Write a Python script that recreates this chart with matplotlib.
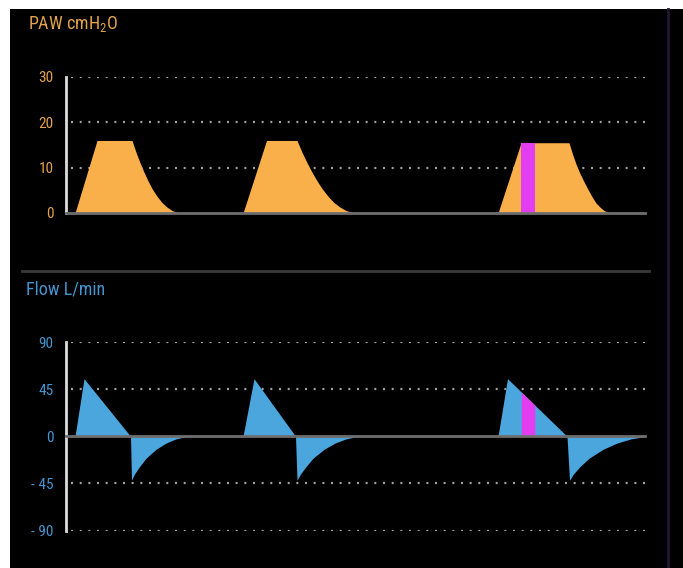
import numpy as np
import matplotlib
matplotlib.use("Agg")
import matplotlib.pyplot as plt
from matplotlib.patches import Rectangle
from matplotlib.lines import Line2D
from matplotlib import font_manager

names = sorted({f.name for f in font_manager.fontManager.ttflist})
narrow = [n for n in ['Liberation Sans Narrow', 'DejaVu Sans Condensed', 'Roboto Condensed',
                      'Open Sans Condensed', 'Noto Sans Condensed'] if n in names]
plt.rcParams['font.family'] = narrow + ['DejaVu Sans']
plt.rcParams['mathtext.default'] = 'regular'

# ---- data (time in s) ----
# Airway pressure, cmH2O
paw_t1 = [0.09, 0.31, 0.66, 0.70, 0.74, 0.78, 0.82, 0.86, 0.91, 0.96, 1.01, 1.06, 1.11, 1.16]
paw_v1 = [0, 16, 16, 13.4, 11.1, 9.0, 7.1, 5.4, 3.7, 2.3, 1.3, 0.55, 0.15, 0]
paw_t2 = [1.77, 2.005, 2.31, 2.36, 2.41, 2.46, 2.51, 2.56, 2.62, 2.68, 2.74, 2.80, 2.86, 2.92]
paw_v2 = [0, 16, 16, 13.4, 11.1, 9.0, 7.1, 5.4, 3.7, 2.3, 1.3, 0.55, 0.15, 0]
paw_t3 = [4.32, 4.55, 5.03, 5.065, 5.10, 5.14, 5.18, 5.22, 5.26, 5.30, 5.34, 5.38, 5.42, 5.48]
paw_v3 = [0, 15.5, 15.5, 13.0, 10.8, 8.7, 6.9, 5.2, 3.6, 2.2, 1.3, 0.55, 0.15, 0]

# Flow, L/min
flow_t1 = [0.09, 0.18, 0.645, 0.655, 0.685, 0.735, 0.80, 0.90, 1.00, 1.10, 1.22]
flow_v1 = [0, 55, 0, -42, -36, -29, -21, -12.5, -6.5, -2.5, 0]
flow_t2 = [1.77, 1.88, 2.295, 2.31, 2.345, 2.40, 2.47, 2.58, 2.69, 2.80, 2.93]
flow_v2 = [0, 55, 0, -42, -36, -29, -21, -12.5, -6.5, -2.5, 0]
flow_t3 = [4.32, 4.415, 5.01, 5.035, 5.075, 5.14, 5.23, 5.37, 5.51, 5.65, 5.81]
flow_v3 = [0, 55, 0, -42, -36, -29, -21, -12.5, -6.5, -2.5, 0]

# magenta marker band (s)
band = (4.553, 4.688)

paw_ticks = [0, 10, 20, 30]
flow_ticks = [-90, -45, 0, 45, 90]
flow_ticklabels = ['- 90', '- 45', '0', '45', '90']

ORANGE = '#FAB04A'
ORANGE_TXT = '#E2A24E'
BLUE = '#4BA6DE'
BLUE_TXT = '#4596D0'
MAGENTA = '#E23DF0'

W, H = 683, 568
fig = plt.figure(figsize=(W / 100, H / 100), dpi=100, facecolor='white')

# black panel
fig.patches.append(Rectangle((10 / W, 0), 1 - 10 / W, 1 - 9 / H, transform=fig.transFigure,
                             facecolor='black', edgecolor='none', zorder=-5))
# right thin purple line
fig.lines.append(Line2D([668 / W, 668 / W], [0, 1 - 9 / H], transform=fig.transFigure,
                        color='#231530', lw=2, zorder=-4))
# separator line
fig.lines.append(Line2D([22 / W, 649 / W], [1 - 271 / H, 1 - 271 / H], transform=fig.transFigure,
                        color='#3a3a3a', lw=2, zorder=-4))


def make_axes(bottom_px, top_px):
    ax = fig.add_axes([66 / W, 1 - bottom_px / H, 579 / W, (bottom_px - top_px) / H])
    ax.set_facecolor('none')
    ax.set_xlim(0, 5.79)
    for s in ['top', 'right', 'bottom']:
        ax.spines[s].set_visible(False)
    ax.spines['left'].set_color('#dcdcdc')
    ax.spines['left'].set_linewidth(2)
    ax.set_xticks([])
    ax.tick_params(axis='y', length=0, pad=9, labelsize=11)
    return ax


GRID_STYLE = dict(color='#a0a0a0', lw=1.6, ls=(0, (0.9, 3.0)), zorder=1)

# ---- pressure panel ----
ax1 = make_axes(213, 77)
ax1.set_ylim(0, 30)
ax1.set_yticks(paw_ticks)
ax1.tick_params(axis='y', labelcolor=ORANGE_TXT)
for g in paw_ticks[1:]:
    ax1.plot([0.05, 5.79], [g, g], **GRID_STYLE)
for t, v in [(paw_t1, paw_v1), (paw_t2, paw_v2), (paw_t3, paw_v3)]:
    ax1.fill_between(t, v, 0, color=ORANGE, lw=0, zorder=2)
bt = np.linspace(band[0], band[1], 20)
ax1.fill_between(bt, np.interp(bt, paw_t3, paw_v3), 0, color=MAGENTA, lw=0, zorder=3)
ax1.plot([0, 5.79], [0, 0], color='#6e6e6e', lw=2, zorder=4, clip_on=False)

# ---- flow panel ----
ax2 = make_axes(530.5, 342)
ax2.set_ylim(-90, 90)
ax2.set_yticks(flow_ticks)
ax2.set_yticklabels(flow_ticklabels)
ax2.tick_params(axis='y', labelcolor=BLUE_TXT)
for g in [-90, -45, 45, 90]:
    ax2.plot([0.05, 5.79], [g, g], **GRID_STYLE)
for t, v in [(flow_t1, flow_v1), (flow_t2, flow_v2), (flow_t3, flow_v3)]:
    ax2.fill_between(t, v, 0, color=BLUE, lw=0, zorder=2)
ax2.fill_between(bt, np.interp(bt, flow_t3, flow_v3), 0, color=MAGENTA, lw=0, zorder=3)
ax2.plot([0, 5.79], [0, 0], color='#6e6e6e', lw=2, zorder=4, clip_on=False)

# titles
fig.text(28 / W, 1 - 24 / H, 'PAW cmH$_2$O', color=ORANGE_TXT, fontsize=13, va='center', ha='left')
fig.text(26 / W, 1 - 289 / H, 'Flow L/min', color=BLUE_TXT, fontsize=13, va='center', ha='left')

fig.savefig('out.png', dpi=100, facecolor='white')
